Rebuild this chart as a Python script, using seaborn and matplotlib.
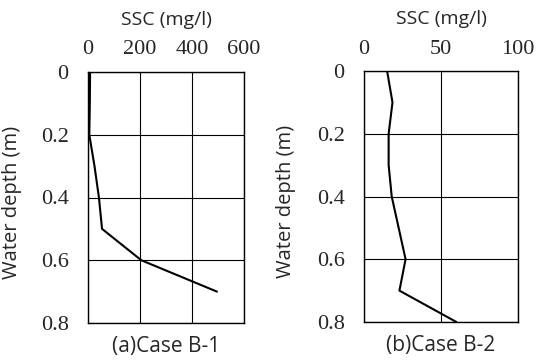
import matplotlib
matplotlib.use("Agg")
import matplotlib.pyplot as plt
import seaborn as sns
import numpy as np

depth_a = [0.0, 0.1, 0.2, 0.3, 0.4, 0.5, 0.6, 0.7]
ssc_a = [8, 7, 5, 25, 42, 54, 205, 496]
depth_b = [0.0, 0.1, 0.2, 0.3, 0.4, 0.5, 0.6, 0.7, 0.8]
ssc_b = [15, 18.5, 16, 16, 18, 22.5, 27, 23, 60]

xticks_a = [0, 200, 400, 600]
xticks_b = [0, 50, 100]
yticks = [0, 0.2, 0.4, 0.6, 0.8]
ytick_labels = ["0", "0.2", "0.4", "0.6", "0.8"]
captions = ["(a)Case B-1", "(b)Case B-2"]

sns.set_theme(style="white")
sans = "Open Sans"
plt.rcParams["font.family"] = "serif"
plt.rcParams["font.serif"] = ["Liberation Serif", "Times New Roman", "DejaVu Serif"]

W, H = 546, 363
fig = plt.figure(figsize=(W/100, H/100), dpi=100)

def add_ax(left, right, top, bottom):
    return fig.add_axes([left/W, 1 - bottom/H, (right-left)/W, (bottom-top)/H])

axes = [add_ax(88, 244, 72, 323), add_ax(364, 518, 71, 322)]
data = [(ssc_a, depth_a, xticks_a), (ssc_b, depth_b, xticks_b)]
ylab_x = [-0.42, -0.44]

for i, (ax, (x, y, xt)) in enumerate(zip(axes, data)):
    sns.lineplot(x=x, y=y, sort=False, estimator=None, color="black", lw=1.5, ax=ax)
    ax.set_xlim(xt[0], xt[-1])
    ax.set_ylim(0.8, 0)
    ax.set_xticks(xt, labels=[str(v) for v in xt])
    ax.set_yticks(yticks, labels=ytick_labels)
    ax.xaxis.tick_top()
    ax.tick_params(length=0, labelsize=16)
    ax.tick_params(axis="x", pad=9)
    ax.tick_params(axis="y", pad=14)
    for lab in ax.get_xticklabels(which="both") + ax.get_yticklabels(which="both"):
        lab.set_family("serif")
    ax.grid(True, color="black", lw=0.8)
    for s in ax.spines.values():
        s.set_color("black")
        s.set_linewidth(1.0)
    ax.set_xlabel("")
    ax.text(0.5, 1.207, "SSC (mg/l)", transform=ax.transAxes, ha="center", va="center",
            fontsize=14, family=sans)
    ax.set_ylabel("Water depth (m)", fontsize=14.5, family=sans)
    ax.yaxis.set_label_coords(ylab_x[i], 0.48)
    ax.text(0.5, -0.05, captions[i], transform=ax.transAxes, ha="center", va="top",
            fontsize=15, family=sans)

fig.savefig("out.png", dpi=100)
